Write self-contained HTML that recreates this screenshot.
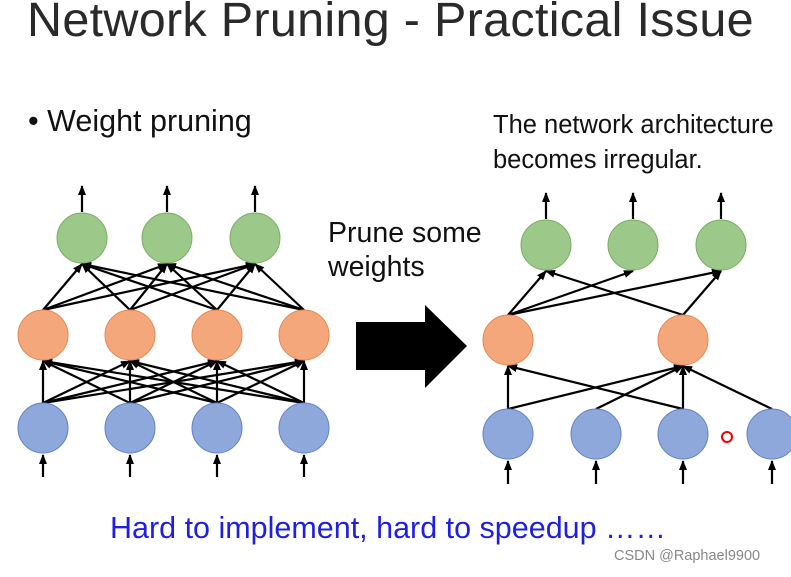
<!DOCTYPE html>
<html><head><meta charset="utf-8"><style>
body{margin:0;background:#fff;width:791px;height:577px;overflow:hidden;position:relative;font-family:"Liberation Sans","DejaVu Sans",sans-serif}
.t{position:absolute;white-space:nowrap;color:#111}
</style></head><body>
<div class="t" style="left:27px;top:-8px;font-size:48.5px;color:#2a2a2a;letter-spacing:0.3px">Network Pruning - Practical Issue</div>
<div class="t" style="left:28px;top:104px;font-size:30.5px">• Weight pruning</div>
<div class="t" style="left:328px;top:216px;font-size:28.5px;line-height:34px">Prune some<br>weights</div>
<div class="t" style="left:493px;top:108px;font-size:25.5px;line-height:35px">The network architecture<br>becomes irregular.</div>
<div class="t" style="left:110px;top:511px;font-size:30.5px;color:#1f1fe0">Hard to implement, hard to speedup ……</div>
<div class="t" style="left:614px;top:548px;font-size:14.5px;color:#888">CSDN @Raphael9900</div>
<svg width="791" height="577" style="position:absolute;left:0;top:0">
<defs><marker id="a" markerWidth="10" markerHeight="8" refX="9" refY="4" orient="auto" markerUnits="userSpaceOnUse"><path d="M0,0L10,4L0,8z" fill="#000"/></marker></defs>
<g stroke="#000" stroke-width="2.2" marker-end="url(#a)" id="L"></g>
<polygon points="356,322 425,322 425,305 467,346 425,388 425,370 356,370" fill="#000"/>
<g id="N"></g>
<circle cx="727" cy="437" r="5" fill="none" stroke="#e00" stroke-width="2"/>
</svg>
<script>
var L=document.getElementById('L'),N=document.getElementById('N'),r=25;
function ln(x1,y1,x2,y2){var l=document.createElementNS('http://www.w3.org/2000/svg','line');l.setAttribute('x1',x1);l.setAttribute('y1',y1);l.setAttribute('x2',x2);l.setAttribute('y2',y2);L.appendChild(l);}
function c(x,y,f,s){var e=document.createElementNS('http://www.w3.org/2000/svg','circle');e.setAttribute('cx',x);e.setAttribute('cy',y);e.setAttribute('r',r);e.setAttribute('fill',f);e.setAttribute('stroke',s);N.appendChild(e);}
var G='#9cc98a',GS='#78ad62',O='#f5a77c',OS='#e8864f',B='#8fa8dc',BS='#5f82c9';
var lg=[82,167,255],lo=[43,130,217,304],lb=[43,130,217,304],gy=238,oy=335,by=428;
lo.forEach(function(o){lg.forEach(function(g){ln(o,oy-r,g,gy+r+1);});});
lb.forEach(function(b){lo.forEach(function(o){ln(b,by-r,o,oy+r+1);});});
lg.forEach(function(g){ln(g,gy-r-1,g,186);});
lb.forEach(function(b){ln(b,477,b,by+r+2);});
var rg=[546,633,721],ro=[508,683],rb=[508,596,683,772],rgy=245,roy=340,rby=434;
[[0,0],[0,1],[0,2],[1,0],[1,2]].forEach(function(p){ln(ro[p[0]],roy-r,rg[p[1]],rgy+r+1);});
[[0,0],[0,1],[1,1],[2,0],[2,1],[3,1]].forEach(function(p){ln(rb[p[0]],rby-r,ro[p[1]],roy+r+1);});
rg.forEach(function(g){ln(g,rgy-r-1,g,193);});
rb.forEach(function(b){ln(b,484,b,rby+r+2);});
lg.forEach(function(x){c(x,gy,G,GS)});lo.forEach(function(x){c(x,oy,O,OS)});lb.forEach(function(x){c(x,by,B,BS)});
rg.forEach(function(x){c(x,rgy,G,GS)});ro.forEach(function(x){c(x,roy,O,OS)});rb.forEach(function(x){c(x,rby,B,BS)});
</script>
</body></html>
